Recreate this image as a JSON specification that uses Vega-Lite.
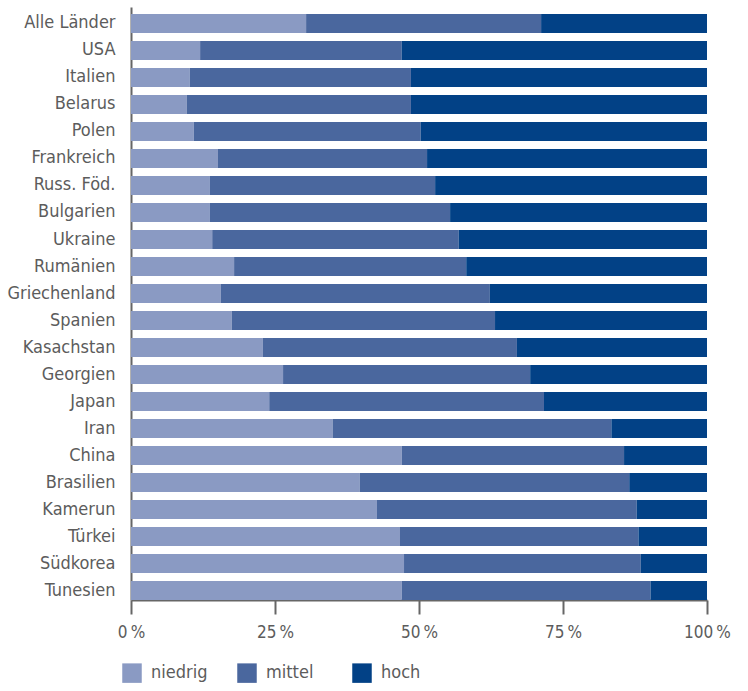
{
  "$schema": "https://vega.github.io/schema/vega-lite/v6.json",
  "autosize": "none",
  "padding": {"left": 131, "top": 7, "right": 41, "bottom": 91},
  "width": 576,
  "height": 593,
  "background": "white",
  "config": {
    "view": {"stroke": null},
    "font": "DejaVu Sans Condensed, sans-serif"
  },
  "data": {
    "values": [
      {"land": "Alle Länder", "stufe": "niedrig", "wert": 30.4}, {"land": "Alle Länder", "stufe": "mittel", "wert": 40.8}, {"land": "Alle Länder", "stufe": "hoch", "wert": 28.8},
      {"land": "USA", "stufe": "niedrig", "wert": 12.0}, {"land": "USA", "stufe": "mittel", "wert": 35.0}, {"land": "USA", "stufe": "hoch", "wert": 53.0},
      {"land": "Italien", "stufe": "niedrig", "wert": 10.2}, {"land": "Italien", "stufe": "mittel", "wert": 38.4}, {"land": "Italien", "stufe": "hoch", "wert": 51.4},
      {"land": "Belarus", "stufe": "niedrig", "wert": 9.7}, {"land": "Belarus", "stufe": "mittel", "wert": 38.9}, {"land": "Belarus", "stufe": "hoch", "wert": 51.4},
      {"land": "Polen", "stufe": "niedrig", "wert": 10.9}, {"land": "Polen", "stufe": "mittel", "wert": 39.4}, {"land": "Polen", "stufe": "hoch", "wert": 49.7},
      {"land": "Frankreich", "stufe": "niedrig", "wert": 15.1}, {"land": "Frankreich", "stufe": "mittel", "wert": 36.3}, {"land": "Frankreich", "stufe": "hoch", "wert": 48.6},
      {"land": "Russ. Föd.", "stufe": "niedrig", "wert": 13.7}, {"land": "Russ. Föd.", "stufe": "mittel", "wert": 39.1}, {"land": "Russ. Föd.", "stufe": "hoch", "wert": 47.2},
      {"land": "Bulgarien", "stufe": "niedrig", "wert": 13.7}, {"land": "Bulgarien", "stufe": "mittel", "wert": 41.7}, {"land": "Bulgarien", "stufe": "hoch", "wert": 44.6},
      {"land": "Ukraine", "stufe": "niedrig", "wert": 14.1}, {"land": "Ukraine", "stufe": "mittel", "wert": 42.8}, {"land": "Ukraine", "stufe": "hoch", "wert": 43.1},
      {"land": "Rumänien", "stufe": "niedrig", "wert": 17.9}, {"land": "Rumänien", "stufe": "mittel", "wert": 40.3}, {"land": "Rumänien", "stufe": "hoch", "wert": 41.8},
      {"land": "Griechenland", "stufe": "niedrig", "wert": 15.6}, {"land": "Griechenland", "stufe": "mittel", "wert": 46.7}, {"land": "Griechenland", "stufe": "hoch", "wert": 37.7},
      {"land": "Spanien", "stufe": "niedrig", "wert": 17.5}, {"land": "Spanien", "stufe": "mittel", "wert": 45.7}, {"land": "Spanien", "stufe": "hoch", "wert": 36.8},
      {"land": "Kasachstan", "stufe": "niedrig", "wert": 22.9}, {"land": "Kasachstan", "stufe": "mittel", "wert": 44.1}, {"land": "Kasachstan", "stufe": "hoch", "wert": 33.0},
      {"land": "Georgien", "stufe": "niedrig", "wert": 26.4}, {"land": "Georgien", "stufe": "mittel", "wert": 42.9}, {"land": "Georgien", "stufe": "hoch", "wert": 30.7},
      {"land": "Japan", "stufe": "niedrig", "wert": 24.0}, {"land": "Japan", "stufe": "mittel", "wert": 47.7}, {"land": "Japan", "stufe": "hoch", "wert": 28.3},
      {"land": "Iran", "stufe": "niedrig", "wert": 35.0}, {"land": "Iran", "stufe": "mittel", "wert": 48.4}, {"land": "Iran", "stufe": "hoch", "wert": 16.6},
      {"land": "China", "stufe": "niedrig", "wert": 47.0}, {"land": "China", "stufe": "mittel", "wert": 38.6}, {"land": "China", "stufe": "hoch", "wert": 14.4},
      {"land": "Brasilien", "stufe": "niedrig", "wert": 39.7}, {"land": "Brasilien", "stufe": "mittel", "wert": 46.8}, {"land": "Brasilien", "stufe": "hoch", "wert": 13.5},
      {"land": "Kamerun", "stufe": "niedrig", "wert": 42.7}, {"land": "Kamerun", "stufe": "mittel", "wert": 45.1}, {"land": "Kamerun", "stufe": "hoch", "wert": 12.2},
      {"land": "Türkei", "stufe": "niedrig", "wert": 46.7}, {"land": "Türkei", "stufe": "mittel", "wert": 41.4}, {"land": "Türkei", "stufe": "hoch", "wert": 11.9},
      {"land": "Südkorea", "stufe": "niedrig", "wert": 47.4}, {"land": "Südkorea", "stufe": "mittel", "wert": 41.1}, {"land": "Südkorea", "stufe": "hoch", "wert": 11.5},
      {"land": "Tunesien", "stufe": "niedrig", "wert": 47.0}, {"land": "Tunesien", "stufe": "mittel", "wert": 43.2}, {"land": "Tunesien", "stufe": "hoch", "wert": 9.8}
    ]
  },
  "mark": {"type": "bar"},
  "encoding": {
    "y": {
      "field": "land",
      "type": "nominal",
      "sort": null,
      "scale": {"paddingInner": 0.3, "paddingOuter": 0.13, "align": 1},
      "axis": {
        "title": null,
        "ticks": false,
        "domainColor": "#666666",
        "domainWidth": 2,
        "labelFontSize": 18,
        "labelColor": "#5c5c5c",
        "labelPadding": 16,
        "labelLimit": 200
      }
    },
    "x": {
      "field": "wert",
      "type": "quantitative",
      "stack": "zero",
      "scale": {"domain": [0, 100], "nice": false},
      "axis": {
        "title": null,
        "values": [0, 25, 50, 75, 100],
        "grid": false,
        "labelExpr": "datum.value + '\u2009%'",
        "domainColor": "#666666",
        "domainWidth": 2,
        "tickColor": "#666666",
        "tickWidth": 2,
        "tickSize": 14,
        "labelFontSize": 17,
        "labelColor": "#5c5c5c",
        "labelPadding": 10,
        "labelFlush": false
      }
    },
    "order": {"field": "stufe", "sort": "descending"},
    "color": {
      "field": "stufe",
      "type": "nominal",
      "scale": {"domain": ["niedrig", "mittel", "hoch"], "range": ["#8a9ac3", "#4a679e", "#024186"]},
      "legend": {
        "title": null,
        "orient": "none",
        "legendX": -9,
        "legendY": 656,
        "direction": "horizontal",
        "gridAlign": "all",
        "columnPadding": 29,
        "symbolType": "square",
        "symbolSize": 380,
        "symbolStrokeWidth": 0,
        "labelFontSize": 18,
        "labelColor": "#5c5c5c",
        "labelOffset": 9
      }
    }
  }
}
